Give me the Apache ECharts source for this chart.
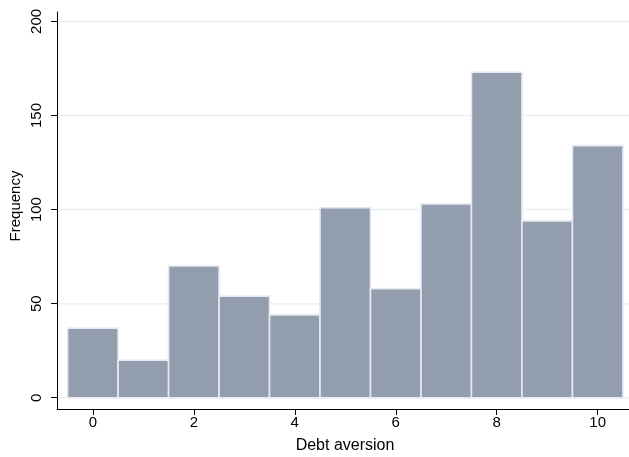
<!DOCTYPE html>
<html>
<head>
<meta charset="utf-8">
<script src="https://cdn.jsdelivr.net/npm/echarts@6/dist/echarts.min.js"></script>
<style>
  html, body { margin: 0; padding: 0; background: #ffffff; }
  #chart { width: 629px; height: 457px; }
</style>
</head>
<body>
<div id="chart"></div>
<script>
// Debt aversion scores (0-10) and how many respondents gave each
const scores = [0, 1, 2, 3, 4, 5, 6, 7, 8, 9, 10];
const frequencies = [37, 20, 70, 54, 44, 101, 58, 103, 173, 94, 134];
const xTicks = [0, 2, 4, 6, 8, 10];
const yTicks = [0, 50, 100, 150, 200];

const FONT = '"Liberation Sans", Arial, sans-serif';

const chart = echarts.init(document.getElementById('chart'), null, { renderer: 'canvas' });

chart.setOption({
  animation: false,
  backgroundColor: '#ffffff',
  grid: { left: 57, right: 0, top: 12, bottom: 48, containLabel: false },
  xAxis: {
    type: 'value',
    min: -0.71,
    max: 10.62,
    axisLine: { show: true, onZero: false, lineStyle: { color: '#000000', width: 1 } },
    axisTick: { show: true, length: 6, customValues: xTicks, lineStyle: { color: '#000000' } },
    axisLabel: { customValues: xTicks, margin: 6, color: '#000000', fontSize: 15, fontFamily: FONT },
    splitLine: { show: false }
  },
  yAxis: {
    type: 'value',
    min: -6,
    max: 205,
    axisLine: { show: true, onZero: false, lineStyle: { color: '#000000', width: 1 } },
    axisTick: { show: true, length: 6, customValues: yTicks, lineStyle: { color: '#000000' } },
    axisLabel: { customValues: yTicks, rotate: 90, margin: 13, color: '#000000', fontSize: 15, fontFamily: FONT },
    splitLine: { show: false }
  },
  graphic: [
    {
      type: 'text',
      x: 16, y: 206,
      rotation: Math.PI / 2,
      style: { text: 'Frequency', fill: '#000000', font: '15px ' + FONT, align: 'center', verticalAlign: 'middle' }
    },
    {
      type: 'text',
      x: 345, y: 446,
      style: { text: 'Debt aversion', fill: '#000000', font: '16px ' + FONT, align: 'center', verticalAlign: 'middle' }
    }
  ],
  series: [
    {
      // horizontal reference lines at each y tick, drawn behind the bars
      type: 'custom',
      z: 1,
      silent: true,
      data: yTicks.map(v => [0, v]),
      renderItem: function (params, api) {
        const y = api.coord([0, api.value(1)])[1];
        const cs = params.coordSys;
        return {
          type: 'line',
          shape: { x1: cs.x + 1, y1: y, x2: cs.x + cs.width, y2: y },
          style: { stroke: '#eaf0f5', lineWidth: 1.5 }
        };
      }
    },
    {
      type: 'custom',
      z: 2,
      data: scores.map((s, i) => [s, frequencies[i]]),
      renderItem: function (params, api) {
        const x = api.value(0);
        const y = api.value(1);
        const p0 = api.coord([x - 0.5, y]);
        const p1 = api.coord([x + 0.5, 0]);
        return {
          type: 'rect',
          shape: { x: p0[0], y: p0[1], width: p1[0] - p0[0], height: p1[1] - p0[1] },
          style: { fill: '#929dae', stroke: '#e6eaf0', lineWidth: 1.6 }
        };
      }
    }
  ]
});
</script>
</body>
</html>
